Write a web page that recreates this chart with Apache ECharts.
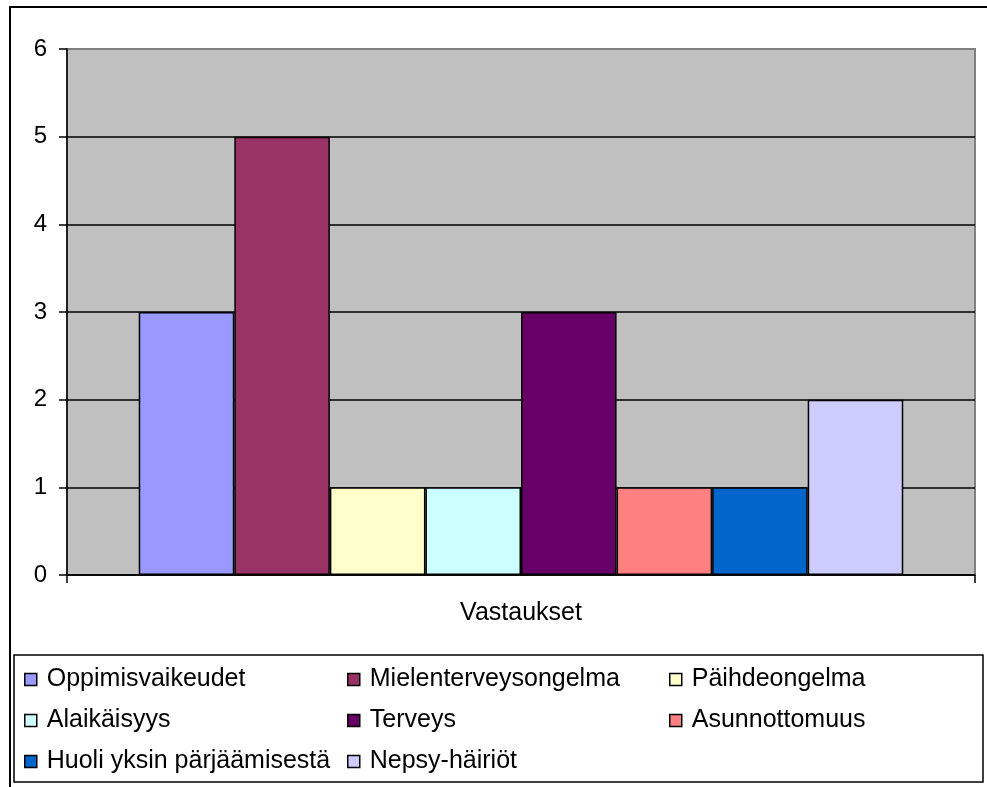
<!DOCTYPE html>
<html>
<head>
<meta charset="utf-8">
<script src="https://cdn.jsdelivr.net/npm/echarts@6/dist/echarts.min.js"></script>
<style>
html,body{margin:0;padding:0;background:#fff;}
#chart{width:987px;height:787px;}
</style>
</head>
<body>
<div id="chart"></div>
<script>
var categories = ['Vastaukset'];
var seriesNames = ['Oppimisvaikeudet','Mielenterveysongelma','Päihdeongelma','Alaikäisyys','Terveys','Asunnottomuus','Huoli yksin pärjäämisestä','Nepsy-häiriöt'];
var seriesValues = [3, 5, 1, 1, 3, 1, 1, 2];
var seriesColors = ['#9999FF','#993366','#FFFFCC','#CCFFFF','#660066','#FF8080','#0066CC','#CCCCFF'];
var yTicks = {min: 0, max: 6, interval: 1};
var legendColumns = [
  ['Oppimisvaikeudet','Alaikäisyys','Huoli yksin pärjäämisestä'],
  ['Mielenterveysongelma','Terveys','Nepsy-häiriöt'],
  ['Päihdeongelma','Asunnottomuus']
];

var FONT = "'Liberation Sans', Arial, sans-serif";
var chart = echarts.init(document.getElementById('chart'), null, {renderer: 'canvas'});

var series = seriesNames.map(function (name, i) {
  return {
    name: name,
    type: 'bar',
    data: [seriesValues[i]],
    barGap: '0%',
    barCategoryGap: '15.8%',
    itemStyle: {color: seriesColors[i], borderColor: '#000', borderWidth: 1.5},
    emphasis: {disabled: true},
    animation: false,
    z: 3
  };
});

var legendLefts = [24, 347, 669];
var legends = legendColumns.map(function (col, c) {
  return {
    data: col.map(function (n) { return {name: n, icon: 'rect', itemStyle: {borderColor: '#000', borderWidth: 1.5}}; }),
    orient: 'vertical',
    left: legendLefts[c],
    top: 667,
    itemWidth: 12,
    itemHeight: 12,
    itemGap: 16,
    padding: 0,
    selectedMode: false,
    textStyle: {fontFamily: FONT, fontSize: 25, color: '#000', lineHeight: 24, padding: [0, 0, 0, 5]}
  };
});

var splitColors = [];
for (var v = yTicks.min; v <= yTicks.max; v += yTicks.interval) {
  splitColors.push(v === yTicks.max ? 'rgba(0,0,0,0)' : '#000');
}

chart.setOption({
  backgroundColor: '#fff',
  animation: false,
  graphic: [
    {type: 'rect', shape: {x: 10, y: 7, width: 1000, height: 1000}, style: {fill: 'none', stroke: '#000', lineWidth: 2}, z: 0, silent: true},
    {type: 'rect', shape: {x: 14, y: 655, width: 969, height: 127}, style: {fill: 'none', stroke: '#000', lineWidth: 1.5}, z: 0, silent: true}
  ],
  grid: {
    left: 67, top: 49, right: 12, bottom: 212,
    show: true, backgroundColor: '#C0C0C0', borderColor: '#808080', borderWidth: 2,
    containLabel: false
  },
  legend: legends,
  xAxis: {
    type: 'category',
    data: categories,
    axisLine: {show: true, lineStyle: {color: '#000', width: 1.5}},
    axisTick: {show: true, length: 8, lineStyle: {color: '#000', width: 1.5}},
    axisLabel: {fontFamily: FONT, fontSize: 25, color: '#000', margin: 26},
    splitLine: {show: false}
  },
  yAxis: {
    type: 'value',
    min: yTicks.min, max: yTicks.max, interval: yTicks.interval,
    axisLine: {show: true, lineStyle: {color: '#000', width: 1.5}},
    axisTick: {show: true, length: 8, lineStyle: {color: '#000', width: 1.5}},
    axisLabel: {fontFamily: FONT, fontSize: 24, color: '#000', margin: 20},
    splitLine: {show: true, lineStyle: {color: splitColors, width: 1.5}}
  },
  series: series
});
</script>
</body>
</html>
